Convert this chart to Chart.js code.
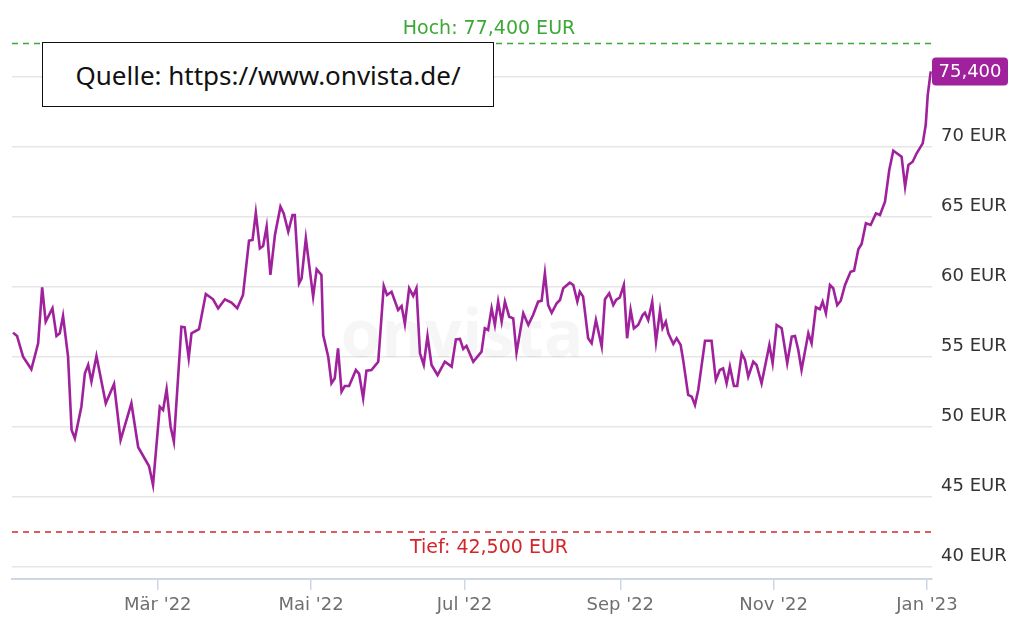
<!DOCTYPE html>
<html>
<head>
<meta charset="utf-8">
<script src="https://cdn.jsdelivr.net/npm/chart.js@4/dist/chart.umd.min.js"></script>
<style>
  body { margin: 0; background: #fff; }
  #wrap { position: relative; width: 1024px; height: 633px; }
  #quelle {
    position: absolute; left: 42px; top: 42px; width: 450px; height: 63px;
    border: 1.5px solid #111; background: #fff;
    font-family: "Noto Sans", sans-serif; font-size: 26px; color: #111;
    display: flex; align-items: center; justify-content: center;
  }
</style>
</head>
<body>
<div id="wrap">
  <canvas id="myChart"></canvas>
  <div id="quelle">Quelle: https://www.onvista.de/</div>
</div>
<script>
// days since 1 Jan 2022
const days = [1.4, 3, 5.4, 8.7, 11.4, 13, 14.4, 17.1, 18.7, 20, 21.3, 23.3, 24.7, 26, 28.6, 30, 31.3, 32.6, 34.6, 38.3,
  41.6, 44.2, 48.5, 51.2, 55.5, 57.1, 59.8, 61.1, 62.5, 64.1, 65.4, 68.4, 69.7, 71.3, 72.4, 75.4, 78.1, 81, 83, 85.7,
  88.3, 90.6, 92.9, 95.3, 96.7, 98, 99.6, 100.9, 102.3, 103.8, 105.6, 107.8, 109.1, 110.9, 112.6, 113.5, 115.2, 116.2, 117.9, 120.8,
  122.2, 124.1, 124.8, 126.8, 128.1, 129.4, 130.7, 132.1, 133.4, 135.1, 137.8, 139.1, 140.7, 142, 144, 146.7, 148.9, 150.2, 152, 154.6,
  156, 157.3, 159, 160.6, 161.9, 163.3, 164.8, 166.3, 167.9, 170.3, 173.2, 175.9, 177.6, 179.2, 180.5, 181.8, 184.5, 187.8, 189.1, 190.4,
  191.8, 193.1, 194.4, 195.8, 197.1, 198.8, 200.4, 201.7, 204.4, 206.4, 208.3, 210.3, 211.7, 213, 214.3, 215.7, 217.7, 219, 220.3, 222.9,
  224.3, 225.9, 226.9, 228.2, 230.2, 231.6, 233.3, 235.6, 236.9, 238.6, 240.2, 241.3, 242.8, 244.4, 245.7, 247.1, 248.4, 250.1, 251.9, 252.8,
  254.1, 255.7, 257.2, 258.8, 259.8, 261.1, 262.1, 264.1, 265.4, 267, 268, 270, 271.4, 272.7, 274, 276.7, 279.3, 281, 282.6, 283.9,
  285.3, 286.6, 288.2, 289.5, 291.3, 292.6, 293.9, 295.9, 297.2, 299.2, 302.3, 303.6, 305.2, 307.2, 309.4, 311.2, 312.5, 313.8, 315.1, 317.8,
  319.1, 320.8, 322.4, 323.5, 324.8, 326.4, 327.7, 329.3, 330.7, 332.4, 334.6, 336, 337.7, 339, 340.7, 342.6, 344.7, 346.3, 348.3, 350,
  351.6, 354.9, 356.3, 357.6, 359.3, 360.9, 363.3, 364.5, 365.3, 366.5];

// closing price in EUR
const prices = [56.74, 56.5, 55.02, 54.12, 55.98, 59.98, 57.52, 58.48, 56.5, 56.69, 57.93, 55.02, 49.79, 49.19, 51.45, 53.84, 54.43, 53.24, 55.07, 51.69,
  53.07, 49.07, 51.69, 48.55, 47.21, 45.86, 51.45, 51.21, 52.69, 50.02, 48.95, 57.16, 57.12, 54.91, 56.69, 56.98, 59.5, 59.12, 58.48, 59.12,
  58.88, 58.48, 59.43, 63.31, 63.36, 65.31, 62.76, 62.93, 64.31, 60.86, 63.71, 65.74, 65.26, 63.95, 65.14, 65.14, 60.26, 60.62, 63.48, 59.31,
  61.26, 60.86, 56.57, 55.02, 53.12, 53.48, 55.62, 52.52, 52.93, 52.93, 54.07, 53.79, 52.05, 54.02, 54.07, 54.66, 60.07, 59.43, 59.66, 58.36,
  58.64, 57.36, 59.91, 59.36, 59.91, 55.26, 54.43, 56.5, 54.43, 53.71, 54.66, 54.31, 56.26, 56.29, 55.57, 55.79, 54.66, 55.38, 57.05, 56.93,
  58.48, 57.29, 58.95, 57.52, 58.95, 57.88, 57.76, 55.31, 58.12, 57.29, 58.0, 58.95, 59.02, 60.98, 58.71, 58.16, 58.84, 59.07, 59.91, 60.31,
  60.14, 58.95, 59.66, 59.31, 56.34, 55.98, 57.64, 55.74, 59.12, 59.55, 58.71, 59.07, 59.25, 60.14, 56.34, 58.36, 57.05, 57.29, 58.0, 58.16,
  57.64, 58.95, 56.09, 58.31, 57.05, 57.52, 56.69, 55.93, 56.34, 55.86, 54.79, 52.29, 52.17, 51.57, 52.64, 56.16, 56.16, 53.36, 54.07, 54.19,
  53.12, 54.31, 52.93, 52.93, 55.26, 54.79, 53.59, 54.66, 54.43, 53.12, 55.86, 54.55, 57.29, 57.05, 54.55, 56.45, 56.5, 55.5, 54.07, 56.69,
  55.98, 58.55, 58.41, 58.95, 58.12, 60.14, 59.91, 58.71, 59.02, 60.14, 61.09, 61.16, 62.69, 63.07, 64.55, 64.43, 65.26, 65.14, 66.09, 68.36,
  69.74, 69.31, 67.16, 68.71, 68.95, 69.55, 70.26, 71.57, 73.71, 75.4];

const monthTicks = [59, 120, 181, 243, 304, 365];
const monthLabels = ["Mär '22", "Mai '22", "Jul '22", "Sep '22", "Nov '22", "Jan '23"];
const priceTicks = [40, 45, 50, 55, 60, 65, 70, 75];

const high = 77.4;
const low = 42.5;
const lastPrice = 75.4;

const purple = '#a0219c';
const labelFont = '"DejaVu Sans", sans-serif';
const xMin = 1, xMax = 367;

const extraPlugin = {
  id: 'extras',
  beforeDatasetsDraw(chart) {
    const { ctx } = chart;
    ctx.save();
    ctx.font = 'bold 66px "Open Sans", sans-serif';
    ctx.fillStyle = 'rgba(0,0,0,0.035)';
    ctx.textAlign = 'center';
    ctx.textBaseline = 'middle';
    ctx.fillText('onvista', 462, 338);
    ctx.restore();
  },
  afterDraw(chart) {
    const { ctx, chartArea, scales } = chart;
    const cx = 489;
    ctx.save();
    ctx.font = '19px ' + labelFont;
    ctx.textAlign = 'center';
    ctx.textBaseline = 'middle';
    ctx.fillStyle = '#3aa935';
    ctx.fillText('Hoch: 77,400 EUR', cx, scales.y.getPixelForValue(high) - 14);
    ctx.fillStyle = '#d3262a';
    ctx.fillText('Tief: 42,500 EUR', cx, scales.y.getPixelForValue(low) + 16);

    // last price box
    const y = scales.y.getPixelForValue(lastPrice);
    const bx = chartArea.right, bw = 76, bh = 28;
    ctx.fillStyle = purple;
    ctx.beginPath();
    ctx.roundRect(bx, y - bh / 2, bw, bh, 4);
    ctx.fill();
    ctx.fillStyle = '#fff';
    ctx.font = '18px ' + labelFont;
    ctx.fillText('75,400', bx + bw / 2, y + 1);
    ctx.restore();
  }
};

const ctx = document.getElementById('myChart').getContext('2d');

const data = {
  datasets: [
    {
      label: 'Kurs',
      data: days.map((d, i) => ({ x: d, y: prices[i] })),
      borderColor: purple,
      borderWidth: 2.6,
      pointRadius: 0,
      tension: 0
    },
    {
      label: 'Hoch',
      data: [{ x: xMin, y: high }, { x: xMax, y: high }],
      borderColor: '#3aa935',
      borderWidth: 1.5,
      borderDash: [6, 5],
      pointRadius: 0
    },
    {
      label: 'Tief',
      data: [{ x: xMin, y: low }, { x: xMax, y: low }],
      borderColor: '#d3262a',
      borderWidth: 1.5,
      borderDash: [6, 5],
      pointRadius: 0
    }
  ]
};

const config = {
  type: 'line',
  data: data,
  plugins: [extraPlugin],
  options: {
    responsive: true,
    maintainAspectRatio: false,
    animation: false,
    layout: { padding: { left: 12, top: 15, right: 0, bottom: 0 } },
    plugins: { legend: { display: false }, tooltip: { enabled: false } },
    scales: {
      x: {
        type: 'linear',
        min: xMin,
        max: xMax,
        afterBuildTicks: (scale) => { scale.ticks = monthTicks.map(v => ({ value: v })); },
        afterFit: (scale) => { scale.height = 54; scale.paddingLeft = 0; scale.paddingRight = 0; },
        ticks: {
          callback: (v) => monthLabels[monthTicks.indexOf(v)],
          color: '#6f6f6f',
          font: { family: labelFont, size: 18 },
          padding: 5,
          maxRotation: 0
        },
        grid: { drawOnChartArea: false, drawTicks: true, tickLength: 11, color: '#cdd7e6', lineWidth: 1.5 },
        border: { color: '#cdd7e6', width: 2 }
      },
      y: {
        position: 'right',
        min: 39.14,
        max: 79.43,
        afterBuildTicks: (scale) => { scale.ticks = priceTicks.map(v => ({ value: v })); },
        afterFit: (scale) => { scale.width = 92; scale.paddingTop = 0; scale.paddingBottom = 0; },
        ticks: {
          callback: (v) => v + ' EUR',
          color: '#333',
          font: { family: labelFont, size: 18 },
          padding: 9,
          labelOffset: -11
        },
        grid: { drawTicks: false, color: '#e6e6e6', lineWidth: 1.5 },
        border: { display: false }
      }
    }
  }
};

const myChart = new Chart(ctx, config);
</script>
</body>
</html>
